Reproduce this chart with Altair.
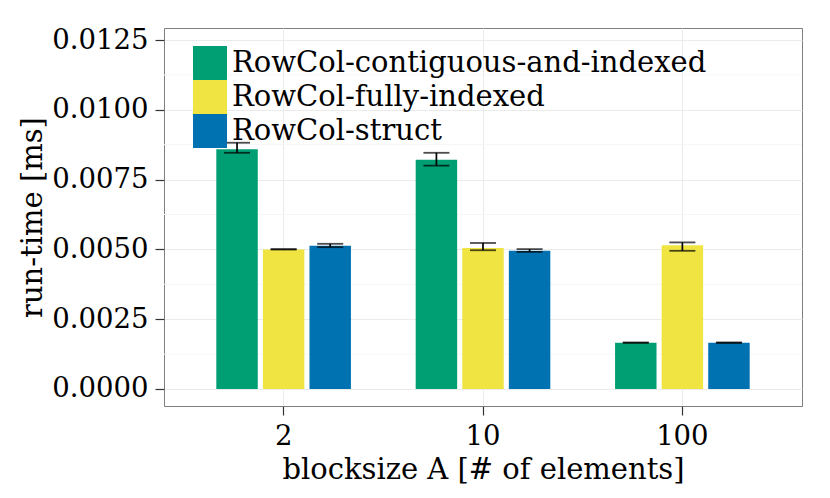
import altair as alt
import pandas as pd

groups = ["2", "10", "100"]
series = ["RowCol-contiguous-and-indexed", "RowCol-fully-indexed", "RowCol-struct"]
colors = ["#009E73", "#F0E442", "#0072B2"]

mean_contig = [0.00859, 0.00821, 0.00166]
lo_contig = [0.00846, 0.00800, 0.001655]
hi_contig = [0.00882, 0.00846, 0.001665]

mean_fully = [0.00500, 0.00505, 0.00515]
lo_fully = [0.004995, 0.00497, 0.00495]
hi_fully = [0.00501, 0.00523, 0.00525]

mean_struct = [0.00513, 0.00495, 0.00166]
lo_struct = [0.00508, 0.00491, 0.001652]
hi_struct = [0.00520, 0.00501, 0.001668]

y_ticks = [0.0, 0.0025, 0.005, 0.0075, 0.01, 0.0125]
minor_ticks = [0.00125, 0.00375, 0.00625, 0.00875, 0.01125]
y_domain = [-0.000609, 0.01293]

rows = []
for s, m, lo, hi in [
    (series[0], mean_contig, lo_contig, hi_contig),
    (series[1], mean_fully, lo_fully, hi_fully),
    (series[2], mean_struct, lo_struct, hi_struct),
]:
    for g, mv, lv, hv in zip(groups, m, lo, hi):
        rows.append({"group": g, "series": s, "mean": mv, "lo": lv, "hi": hv})
df = pd.DataFrame(rows)
minor_df = pd.DataFrame({"v": minor_ticks})

FONT = "DejaVu Serif"

yscale = alt.Scale(domain=y_domain, nice=False, zero=False)

x_enc = alt.X(
    "group:N",
    sort=groups,
    scale=alt.Scale(paddingInner=0, paddingOuter=0.1),
    axis=alt.Axis(
        title="blocksize A [# of elements]",
        labelAngle=0,
        tickSize=9,
        labelPadding=7,
        labelFontSize=27.5,
        titleFontSize=29,
        titleX=319,
        titleY=72,
        titleBaseline="alphabetic",
        grid=True,
    ),
)
xoff_enc = alt.XOffset(
    "series:N", sort=series, scale=alt.Scale(paddingInner=0.11, paddingOuter=0.695)
)

minor = alt.Chart(minor_df).mark_rule(color="#f6f6f6", strokeWidth=1).encode(
    y=alt.Y("v:Q", scale=yscale)
)

bars = alt.Chart(df).mark_bar().encode(
    x=x_enc,
    xOffset=xoff_enc,
    y=alt.Y(
        "mean:Q",
        scale=yscale,
        axis=alt.Axis(
            title="run-time [ms]",
            values=y_ticks,
            format=".4f",
            tickSize=9,
            labelPadding=7,
            labelFontSize=27.5,
            titleFontSize=29,
            titleX=-132,
            titleY=189,
            titleAngle=270,
            titleBaseline="middle",
        ),
    ),
    y2=alt.datum(0),
    color=alt.Color(
        "series:N",
        sort=series,
        scale=alt.Scale(domain=series, range=colors),
        legend=alt.Legend(
            title=None,
            orient="none",
            legendX=29,
            legendY=18,
            symbolType="square",
            symbolSize=1156,
            symbolStrokeWidth=0,
            labelFont=FONT,
            labelFontSize=29,
            labelOffset=5,
            labelColor="black",
            rowPadding=0,
            labelLimit=0,
            padding=0,
        ),
    ),
)

rules = alt.Chart(df).mark_rule(color="black", strokeWidth=1.7).encode(
    x=alt.X("group:N", sort=groups),
    xOffset=alt.XOffset("series:N", sort=series),
    y=alt.Y("lo:Q", scale=yscale),
    y2="hi:Q",
)
cap_lo = alt.Chart(df).mark_tick(color="black", thickness=1.8, size=26, orient="horizontal").encode(
    x=alt.X("group:N", sort=groups),
    xOffset=alt.XOffset("series:N", sort=series),
    y=alt.Y("lo:Q", scale=yscale),
)
cap_hi = alt.Chart(df).mark_tick(color="black", thickness=1.8, size=26, orient="horizontal").encode(
    x=alt.X("group:N", sort=groups),
    xOffset=alt.XOffset("series:N", sort=series),
    y=alt.Y("hi:Q", scale=yscale),
)

chart = (
    alt.layer(minor, bars, rules, cap_lo, cap_hi)
    .properties(
        width=638,
        height=378,
        autosize=alt.AutoSizeParams(type="none"),
        padding={"left": 156, "top": 20, "right": 20, "bottom": 84},
    )
    .configure_view(stroke="#7f7f7f", strokeWidth=1)
    .configure_axis(
        domain=False,
        tickColor="#333333",
        tickWidth=1.2,
        gridColor="#ebebeb",
        gridWidth=1,
        labelColor="black",
        titleColor="black",
        labelFont=FONT,
        titleFont=FONT,
        titleFontWeight="normal",
    )
    .configure_legend(labelFont=FONT)
)

chart.save("out.html", embed_options={"renderer": "svg", "actions": False})
